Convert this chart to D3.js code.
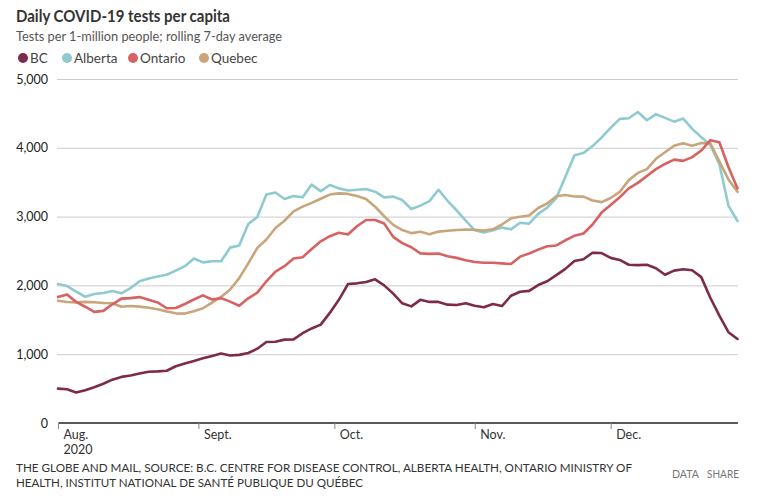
<!DOCTYPE html>
<html>
<head>
<meta charset="utf-8">
<script src="https://cdn.jsdelivr.net/npm/d3@7"></script>
<style>
  html, body { margin: 0; padding: 0; background: #fff; }
  svg { display: block; font-family: Lato, "Noto Sans", sans-serif; }
</style>
</head>
<body>
<svg id="chart" width="772" height="500"></svg>
<script>
// ---- Data ----
const startDate = new Date(2020, 7, 1);   // Aug 1, 2020; one point every 2 days
const endDate = new Date(2020, 11, 29);
const seriesNames = ["BC", "Alberta", "Ontario", "Quebec"];
const seriesColors = ["#7d2a4c", "#8ecbd1", "#d86262", "#c9a57b"];

const bc = [500,490,442,475,520,570,630,670,690,718,745,750,760,825,865,900,940,975,1010,980,
  990,1018,1080,1178,1180,1212,1215,1305,1374,1430,1600,1790,2020,2030,2050,2088,2000,1880,1740,1695,
  1790,1760,1760,1720,1716,1740,1705,1682,1730,1700,1850,1908,1920,2005,2060,2150,2240,2355,2380,2475,
  2470,2400,2370,2300,2295,2300,2250,2155,2215,2234,2220,2120,1820,1560,1320,1220];

const alberta = [2020,1990,1910,1835,1875,1890,1920,1885,1960,2060,2100,2130,2155,2215,2280,2390,2335,2350,2350,2549,
  2580,2892,2995,3320,3350,3255,3300,3280,3465,3370,3460,3410,3380,3390,3400,3362,3280,3290,3240,3110,
  3160,3225,3390,3230,3090,2940,2800,2768,2800,2840,2815,2911,2897,3040,3130,3270,3580,3890,3925,4025,
  4150,4290,4420,4430,4520,4400,4490,4435,4380,4425,4275,4155,4040,3760,3160,2935];

const ontario = [1830,1868,1760,1690,1615,1630,1725,1808,1815,1830,1790,1752,1668,1672,1730,1795,1855,1795,1815,1764,
  1705,1812,1895,2060,2200,2280,2390,2410,2530,2640,2715,2766,2740,2860,2950,2950,2900,2705,2615,2555,
  2466,2458,2462,2425,2400,2365,2340,2330,2330,2320,2310,2418,2464,2520,2570,2580,2656,2720,2754,2885,
  3058,3170,3282,3410,3490,3590,3690,3765,3828,3810,3865,3960,4110,4080,3720,3410];

const quebec = [1778,1758,1753,1760,1755,1745,1740,1690,1700,1692,1675,1652,1622,1594,1590,1625,1668,1750,1833,1940,
  2105,2320,2545,2668,2835,2940,3075,3145,3200,3260,3320,3338,3330,3300,3255,3144,3005,2880,2805,2760,
  2780,2745,2782,2795,2805,2813,2808,2798,2815,2885,2975,2998,3015,3125,3190,3295,3314,3292,3290,3235,
  3210,3270,3360,3530,3635,3690,3840,3935,4030,4065,4030,4070,4065,3800,3540,3360];

const yTicks = [0, 1000, 2000, 3000, 4000, 5000];
const monthTicks = [new Date(2020,7,1), new Date(2020,8,1), new Date(2020,9,1), new Date(2020,10,1), new Date(2020,11,1)];
const monthLabels = ["Aug.", "Sept.", "Oct.", "Nov.", "Dec."];

const title = "Daily COVID-19 tests per capita";
const subtitle = "Tests per 1-million people; rolling 7-day average";
const footer1 = "THE GLOBE AND MAIL, SOURCE: B.C. CENTRE FOR DISEASE CONTROL, ALBERTA HEALTH, ONTARIO MINISTRY OF";
const footer2 = "HEALTH, INSTITUT NATIONAL DE SANTÉ PUBLIQUE DU QUÉBEC";

// ---- Build ----
const dates = bc.map((_, i) => d3.timeDay.offset(startDate, 2 * i));
const allSeries = [bc, alberta, ontario, quebec];

const svg = d3.select("#chart");
const x = d3.scaleTime().domain([startDate, endDate]).range([58, 737.5]);
const y = d3.scaleLinear().domain([0, 5000]).range([423, 79]);

// Title block
svg.append("text").attr("x", 16).attr("y", 22)
  .attr("font-size", 17).attr("font-weight", 700).attr("fill", "#333")
  .attr("textLength", 214).attr("lengthAdjust", "spacingAndGlyphs").text(title);
svg.append("text").attr("x", 16).attr("y", 41)
  .attr("font-size", 13.5).attr("fill", "#555")
  .attr("textLength", 266).attr("lengthAdjust", "spacingAndGlyphs").text(subtitle);

// Legend
const legendX = [23, 67, 133, 204];
const lg = svg.append("g");
seriesNames.forEach((n, i) => {
  lg.append("circle").attr("cx", legendX[i]).attr("cy", 58).attr("r", 5).attr("fill", seriesColors[i]);
  lg.append("text").attr("x", legendX[i] + 7).attr("y", 62.5)
    .attr("font-size", 13.5).attr("fill", "#444").text(n);
});

// Y gridlines + labels
const yAxis = d3.axisLeft(y).tickValues(yTicks).tickSize(0).tickFormat(d3.format(","));
const gy = svg.append("g").attr("transform", "translate(56,0)").call(yAxis);
gy.select(".domain").remove();
gy.selectAll(".tick text").attr("x", -8).attr("dy", "0.32em")
  .attr("font-size", 12.5).attr("fill", "#222").attr("font-family", "Lato, sans-serif");
gy.selectAll(".tick").filter(d => d !== 0).append("line")
  .attr("x1", 1).attr("x2", 738 - 56).attr("stroke", "#cccccc").attr("stroke-width", 1);

// Lines
const line = d3.line().x((d, i) => x(dates[i])).y(d => y(d)).curve(d3.curveLinear);
const drawOrder = [0, 1, 3, 2];
drawOrder.forEach(i => {
  svg.append("path").datum(allSeries[i]).attr("d", line)
    .attr("fill", "none").attr("stroke", seriesColors[i]).attr("stroke-width", 2.6)
    .attr("stroke-linejoin", "round").attr("stroke-linecap", "round");
});

// X axis
const xAxis = d3.axisBottom(x).tickValues(monthTicks).tickSize(6)
  .tickFormat((d, i) => monthLabels[i]);
const gx = svg.append("g").attr("transform", "translate(0,423)").call(xAxis);
gx.select(".domain").attr("d", "M58.5,0H738").attr("stroke", "#222").attr("stroke-width", 1.5);
gx.selectAll(".tick line").attr("stroke", "#888");
gx.selectAll(".tick text").attr("text-anchor", "start").attr("x", 5).attr("y", 16).attr("dy", 0)
  .attr("font-size", 12.5).attr("fill", "#333").attr("font-family", "Lato, sans-serif");
gx.selectAll(".tick").filter((d, i) => i === 0).append("text")
  .attr("x", 5).attr("y", 31).attr("fill", "#333").attr("font-size", 12.5)
  .attr("font-family", "Lato, sans-serif").attr("text-anchor", "start").text("2020");

// Footer
svg.append("text").attr("x", 16).attr("y", 472).attr("font-size", 12).attr("fill", "#333")
  .attr("textLength", 616).attr("lengthAdjust", "spacingAndGlyphs").text(footer1);
svg.append("text").attr("x", 16).attr("y", 487).attr("font-size", 12).attr("fill", "#333")
  .attr("textLength", 347).attr("lengthAdjust", "spacingAndGlyphs").text(footer2);
svg.append("text").attr("x", 672).attr("y", 478).attr("font-size", 11).attr("fill", "#777")
  .attr("textLength", 27).attr("lengthAdjust", "spacingAndGlyphs").text("DATA");
svg.append("text").attr("x", 707).attr("y", 478).attr("font-size", 11).attr("fill", "#777")
  .attr("textLength", 32).attr("lengthAdjust", "spacingAndGlyphs").text("SHARE");
</script>
</body>
</html>
